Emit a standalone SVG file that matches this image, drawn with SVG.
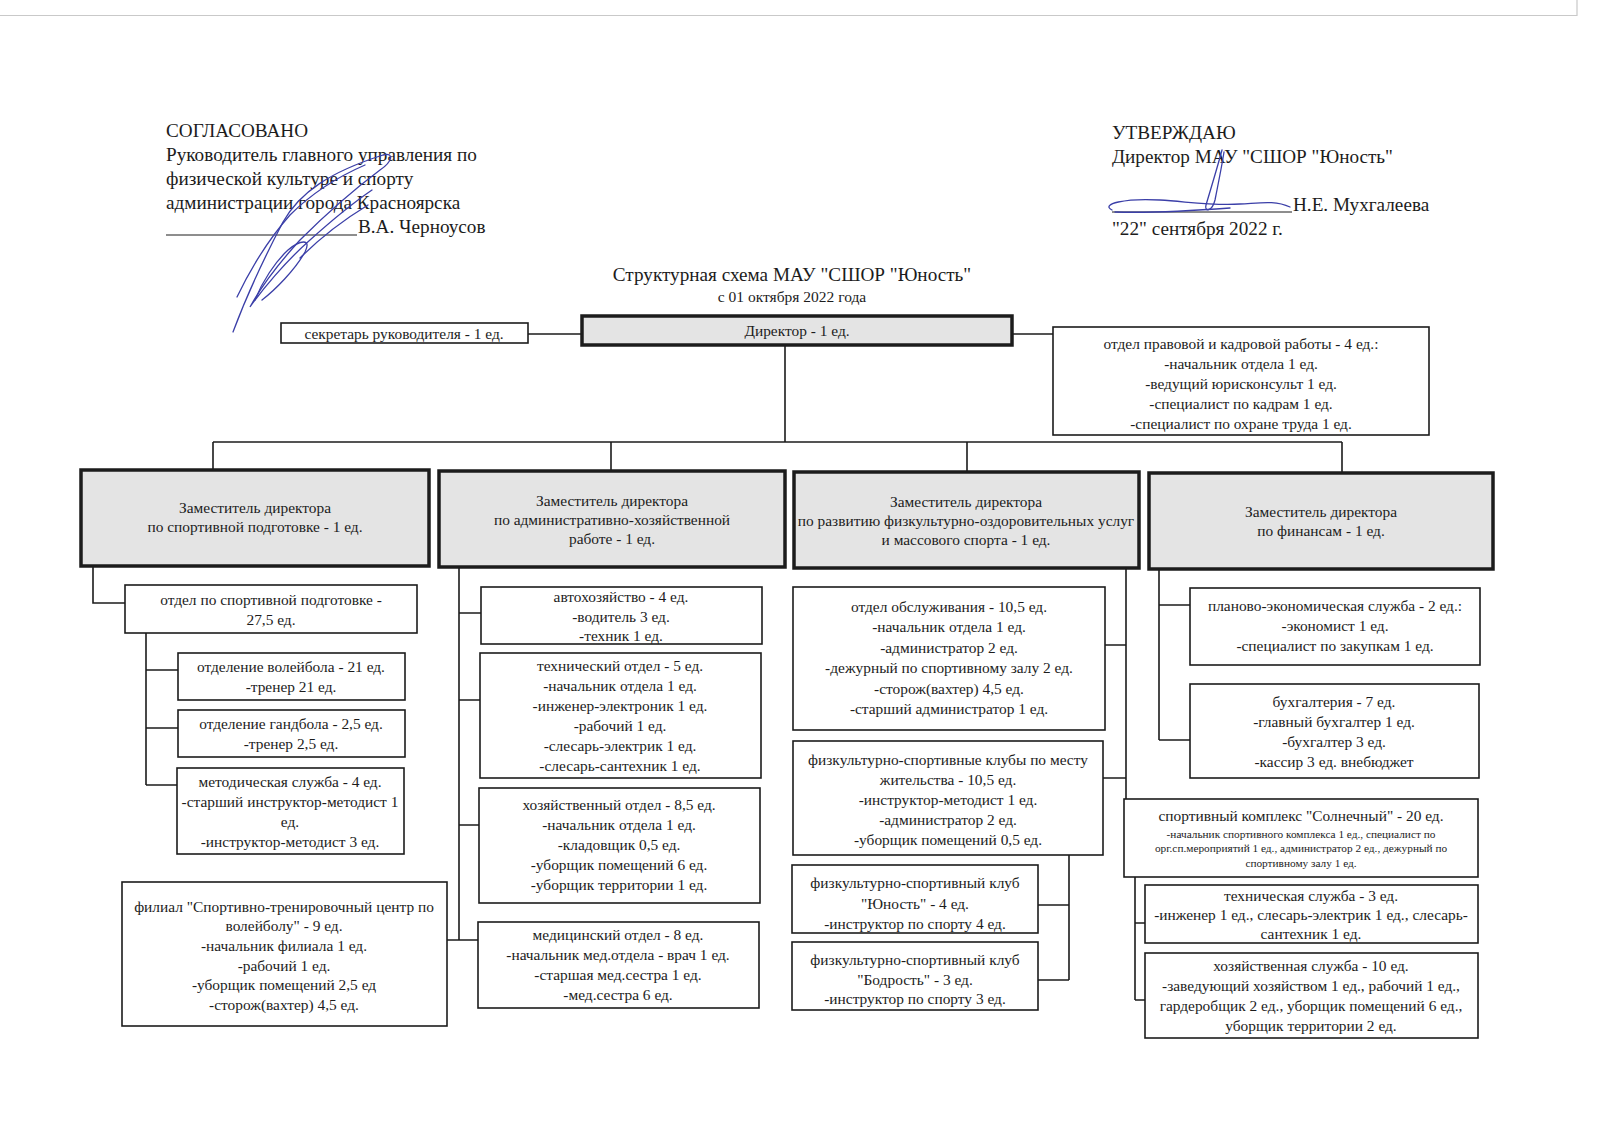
<svg xmlns="http://www.w3.org/2000/svg" width="1600" height="1131" viewBox="0 0 1600 1131">
<style>
text{font-family:"Liberation Serif","DejaVu Serif",serif;fill:#1c1c1c}
.t{font-size:15.4px;text-anchor:middle}
.d{font-size:15.4px;text-anchor:middle}
.s{font-size:11.3px;text-anchor:middle}
.h{font-size:19.2px}
.box{fill:#fff;stroke:#1c1c1c;stroke-width:1.6}
.dep{fill:#e4e4e4;stroke:#1c1c1c;stroke-width:3.5}
.ln{stroke:#1c1c1c;stroke-width:1.6;fill:none}
.sig{stroke:#3b3fa8;stroke-width:1.3;fill:none;stroke-linecap:round}
</style>
<rect width="1600" height="1131" fill="#fff"/>
<path d="M0 15.5H1577V0" stroke="#c9c9c9" stroke-width="1.2" fill="none"/>

<g id="header-left">
<text class="h" x="166" y="137">СОГЛАСОВАНО</text>
<text class="h" x="166" y="161">Руководитель главного управления по</text>
<text class="h" x="166" y="185">физической культуре и спорту</text>
<text class="h" x="166" y="209">администрации города Красноярска</text>
<line x1="166" y1="235" x2="357" y2="235" stroke="#1c1c1c" stroke-width="1"/>
<text class="h" x="358" y="233">В.А. Черноусов</text>
</g>
<g id="header-right">
<text class="h" x="1112" y="139">УТВЕРЖДАЮ</text>
<text class="h" x="1112" y="163">Директор МАУ "СШОР "Юность"</text>
<line x1="1112" y1="212" x2="1292" y2="212" stroke="#1c1c1c" stroke-width="1"/>
<text class="h" x="1293" y="211">Н.Е. Мухгалеева</text>
<text class="h" x="1112" y="235">"22" сентября 2022 г.</text>
</g>
<g id="signatures">
<path class="sig" d="M233 332C245 300 262 262 283 222C300 192 330 172 383 155C395 152 392 162 380 170C360 185 330 210 300 240C280 262 262 285 250 307C262 290 285 262 310 240C330 222 350 205 372 190"/>
<path class="sig" d="M237 297C250 270 268 240 290 215C310 195 335 178 365 165"/>
<path class="sig" d="M255 300C262 282 275 262 288 250C300 240 312 238 305 252C295 270 275 290 262 300"/>
<path class="sig" d="M300 258C318 240 340 222 368 205"/>
<path class="sig" d="M1222 150C1218 165 1212 185 1206 205C1204 212 1212 212 1215 200C1218 185 1222 165 1224 152"/>
<path class="sig" d="M1112 210C1100 204 1125 198 1160 200C1190 202 1215 206 1240 204C1260 203 1275 200 1290 207"/>
<path class="sig" d="M1115 212C1150 213 1190 211 1230 208"/>
</g>

<g id="title">
<text x="792" y="281" style="font-size:19.2px;text-anchor:middle">Структурная схема МАУ "СШОР "Юность"</text>
<text x="792" y="302" style="font-size:15.5px;text-anchor:middle">с 01 октября 2022 года</text>
</g>

<g id="connectors">
<path class="ln" d="M528 334H582M1012 334H1053M785 345V442M213 442H1342M213 442V469M611 442V470M967 442V471M1342 442V472"/>
<path class="ln" d="M93 567V603H125M146 633V785M146 670H178M146 728H178M146 785H177"/>
<path class="ln" d="M459 567V940M459 613H481M459 700H480M459 825H479M447 940H478"/>
<path class="ln" d="M1126 568V799M1105 645H1126M1103 778H1126M1069 855V980M1038 905H1069M1038 980H1069"/>
<path class="ln" d="M1135 877V1000M1135 923H1145M1135 1000H1145"/>
<path class="ln" d="M1159 569V740M1159 605H1190M1159 740H1190"/>
</g>

<g id="secretary">
<rect class="box" x="281" y="323" width="247" height="20"/>
<text class="t" x="404" y="339">секретарь руководителя - 1 ед.</text>
</g>
<g id="director">
<rect class="dep" x="582" y="316" width="430" height="29"/>
<text class="t" x="797" y="336">Директор - 1 ед.</text>
</g>
<g id="legal">
<rect class="box" x="1053" y="327" width="376" height="108"/>
<text class="t" x="1241" y="349">отдел правовой и кадровой работы - 4 ед.:</text>
<text class="t" x="1241" y="369">-начальник отдела 1 ед.</text>
<text class="t" x="1241" y="389">-ведущий юрисконсульт 1 ед.</text>
<text class="t" x="1241" y="409">-специалист по кадрам 1 ед.</text>
<text class="t" x="1241" y="429">-специалист по охране труда 1 ед.</text>
</g>

<g id="dep1">
<rect class="dep" x="81" y="470" width="348" height="96"/>
<text class="d" x="255" y="513">Заместитель директора</text>
<text class="d" x="255" y="532">по спортивной подготовке - 1 ед.</text>
</g>
<g id="dep2">
<rect class="dep" x="439" y="471" width="346" height="96"/>
<text class="d" x="612" y="506">Заместитель директора</text>
<text class="d" x="612" y="525">по административно-хозяйственной</text>
<text class="d" x="612" y="544">работе - 1 ед.</text>
</g>
<g id="dep3">
<rect class="dep" x="794" y="472" width="345" height="96"/>
<text class="d" x="966" y="507">Заместитель директора</text>
<text class="d" x="966" y="526">по развитию физкультурно-оздоровительных услуг</text>
<text class="d" x="966" y="545">и массового спорта - 1 ед.</text>
</g>
<g id="dep4">
<rect class="dep" x="1149" y="473" width="344" height="96"/>
<text class="d" x="1321" y="517">Заместитель директора</text>
<text class="d" x="1321" y="536">по финансам - 1 ед.</text>
</g>

<g id="sport-dept">
<rect class="box" x="125" y="585" width="292" height="48"/>
<text class="t" x="271" y="605">отдел по спортивной подготовке -</text>
<text class="t" x="271" y="625">27,5 ед.</text>
</g>
<g id="volleyball">
<rect class="box" x="178" y="653" width="227" height="47"/>
<text class="t" x="291" y="672">отделение волейбола - 21 ед.</text>
<text class="t" x="291" y="692">-тренер 21 ед.</text>
</g>
<g id="handball">
<rect class="box" x="178" y="710" width="227" height="47"/>
<text class="t" x="291" y="729">отделение гандбола - 2,5 ед.</text>
<text class="t" x="291" y="749">-тренер 2,5 ед.</text>
</g>
<g id="method">
<rect class="box" x="177" y="768" width="227" height="86"/>
<text class="t" x="290" y="787">методическая служба - 4 ед.</text>
<text class="t" x="290" y="807">-старший инструктор-методист 1</text>
<text class="t" x="290" y="827">ед.</text>
<text class="t" x="290" y="847">-инструктор-методист 3 ед.</text>
</g>
<g id="filial">
<rect class="box" x="122" y="882" width="325" height="144"/>
<text class="t" x="284" y="912">филиал "Спортивно-тренировочный центр по</text>
<text class="t" x="284" y="931">волейболу" - 9 ед.</text>
<text class="t" x="284" y="951">-начальник филиала 1 ед.</text>
<text class="t" x="284" y="971">-рабочий 1 ед.</text>
<text class="t" x="284" y="990">-уборщик помещений 2,5 ед</text>
<text class="t" x="284" y="1010">-сторож(вахтер) 4,5 ед.</text>
</g>

<g id="auto">
<rect class="box" x="481" y="587" width="281" height="57"/>
<text class="t" x="621" y="602">автохозяйство - 4 ед.</text>
<text class="t" x="621" y="622">-водитель 3 ед.</text>
<text class="t" x="621" y="641">-техник 1 ед.</text>
</g>
<g id="tech-dept">
<rect class="box" x="480" y="653" width="281" height="125"/>
<text class="t" x="620" y="671">технический отдел - 5 ед.</text>
<text class="t" x="620" y="691">-начальник отдела 1 ед.</text>
<text class="t" x="620" y="711">-инженер-электроник 1 ед.</text>
<text class="t" x="620" y="731">-рабочий 1 ед.</text>
<text class="t" x="620" y="751">-слесарь-электрик 1 ед.</text>
<text class="t" x="620" y="771">-слесарь-сантехник 1 ед.</text>
</g>
<g id="hoz-dept">
<rect class="box" x="479" y="788" width="281" height="115"/>
<text class="t" x="619" y="810">хозяйственный отдел - 8,5 ед.</text>
<text class="t" x="619" y="830">-начальник отдела 1 ед.</text>
<text class="t" x="619" y="850">-кладовщик 0,5 ед.</text>
<text class="t" x="619" y="870">-уборщик помещений 6 ед.</text>
<text class="t" x="619" y="890">-уборщик территории 1 ед.</text>
</g>
<g id="med-dept">
<rect class="box" x="478" y="922" width="281" height="86"/>
<text class="t" x="618" y="940">медицинский отдел - 8 ед.</text>
<text class="t" x="618" y="960">-начальник мед.отдела - врач 1 ед.</text>
<text class="t" x="618" y="980">-старшая мед.сестра 1 ед.</text>
<text class="t" x="618" y="1000">-мед.сестра 6 ед.</text>
</g>

<g id="service-dept">
<rect class="box" x="793" y="587" width="312" height="143"/>
<text class="t" x="949" y="612">отдел обслуживания - 10,5 ед.</text>
<text class="t" x="949" y="632">-начальник отдела 1 ед.</text>
<text class="t" x="949" y="653">-администратор 2 ед.</text>
<text class="t" x="949" y="673">-дежурный по спортивному залу 2 ед.</text>
<text class="t" x="949" y="694">-сторож(вахтер) 4,5 ед.</text>
<text class="t" x="949" y="714">-старший администратор 1 ед.</text>
</g>
<g id="clubs">
<rect class="box" x="793" y="741" width="310" height="114"/>
<text class="t" x="948" y="765">физкультурно-спортивные клубы по месту</text>
<text class="t" x="948" y="785">жительства - 10,5 ед.</text>
<text class="t" x="948" y="805">-инструктор-методист 1 ед.</text>
<text class="t" x="948" y="825">-администратор 2 ед.</text>
<text class="t" x="948" y="845">-уборщик помещений 0,5 ед.</text>
</g>
<g id="club-yunost">
<rect class="box" x="792" y="865" width="246" height="68"/>
<text class="t" x="915" y="888">физкультурно-спортивный клуб</text>
<text class="t" x="915" y="909">"Юность" - 4 ед.</text>
<text class="t" x="915" y="929">-инструктор по спорту 4 ед.</text>
</g>
<g id="club-bodrost">
<rect class="box" x="792" y="942" width="246" height="68"/>
<text class="t" x="915" y="965">физкультурно-спортивный клуб</text>
<text class="t" x="915" y="985">"Бодрость" - 3 ед.</text>
<text class="t" x="915" y="1004">-инструктор по спорту 3 ед.</text>
</g>

<g id="solnechny">
<rect class="box" x="1124" y="799" width="354" height="78"/>
<text class="t" x="1301" y="821">спортивный комплекс "Солнечный" - 20 ед.</text>
<text class="s" x="1301" y="838">-начальник спортивного комплекса 1 ед., специалист по</text>
<text class="s" x="1301" y="852">орг.сп.мероприятий 1 ед., администратор 2 ед., дежурный по</text>
<text class="s" x="1301" y="867">спортивному залу 1 ед.</text>
</g>
<g id="tech-service">
<rect class="box" x="1145" y="885" width="333" height="58"/>
<text class="t" x="1311" y="901">техническая служба - 3 ед.</text>
<text class="t" x="1311" y="920">-инженер 1 ед., слесарь-электрик 1 ед., слесарь-</text>
<text class="t" x="1311" y="939">сантехник 1 ед.</text>
</g>
<g id="hoz-service">
<rect class="box" x="1145" y="953" width="333" height="85"/>
<text class="t" x="1311" y="971">хозяйственная служба - 10 ед.</text>
<text class="t" x="1311" y="991">-заведующий хозяйством 1 ед., рабочий 1 ед.,</text>
<text class="t" x="1311" y="1011">гардеробщик 2 ед., уборщик помещений 6 ед.,</text>
<text class="t" x="1311" y="1031">уборщик территории 2 ед.</text>
</g>

<g id="plan-econ">
<rect class="box" x="1190" y="588" width="290" height="77"/>
<text class="t" x="1335" y="611">планово-экономическая служба - 2 ед.:</text>
<text class="t" x="1335" y="631">-экономист 1 ед.</text>
<text class="t" x="1335" y="651">-специалист по закупкам 1 ед.</text>
</g>
<g id="accounting">
<rect class="box" x="1190" y="684" width="289" height="94"/>
<text class="t" x="1334" y="707">бухгалтерия - 7 ед.</text>
<text class="t" x="1334" y="727">-главный бухгалтер 1 ед.</text>
<text class="t" x="1334" y="747">-бухгалтер 3 ед.</text>
<text class="t" x="1334" y="767">-кассир 3 ед. внебюджет</text>
</g>
</svg>
